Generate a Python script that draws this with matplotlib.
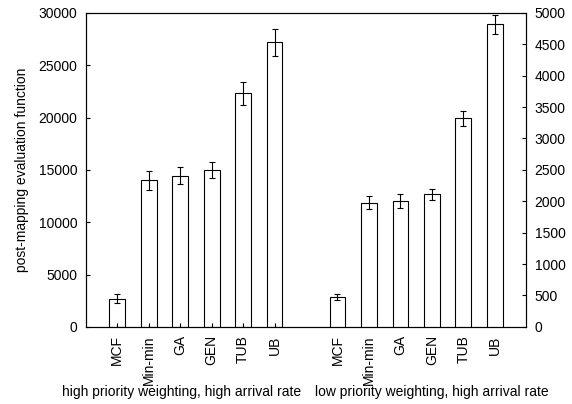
import matplotlib
matplotlib.use("Agg")
import matplotlib.pyplot as plt

plt.rcParams['font.family'] = ['Liberation Sans', 'DejaVu Sans']

methods = ["MCF", "Min-min", "GA", "GEN", "TUB", "UB"]
high_vals = [2700, 14000, 14450, 15000, 22300, 27200]
high_err = [400, 900, 800, 800, 1100, 1300]
low_vals = [480, 1980, 2010, 2110, 3320, 4820]
low_err = [50, 110, 110, 90, 120, 150]
group_labels = ["high priority weighting, high arrival rate",
                "low priority weighting, high arrival rate"]
left_ticks = [0, 5000, 10000, 15000, 20000, 25000, 30000]
right_ticks = [0, 500, 1000, 1500, 2000, 2500, 3000, 3500, 4000, 4500, 5000]

FS = 10
fig = plt.figure(figsize=(5.72, 4.04), dpi=100)
ax = fig.add_axes([0.150, 0.191, 0.770, 0.777])
ax2 = ax.twinx()

x_high = list(range(1, 7))
x_low = list(range(8, 14))

ax.bar(x_high, high_vals, width=0.5, color='white', edgecolor='black', linewidth=0.8,
       yerr=high_err, error_kw=dict(ecolor='black', elinewidth=0.8, capsize=2, capthick=0.8))
ax2.bar(x_low, low_vals, width=0.5, color='white', edgecolor='black', linewidth=0.8,
        yerr=low_err, error_kw=dict(ecolor='black', elinewidth=0.8, capsize=2, capthick=0.8))

ax.set_xlim(0, 14)
ax.set_ylim(0, 30000)
ax2.set_ylim(0, 5000)
ax.set_yticks(left_ticks)
ax2.set_yticks(right_ticks)
ax.set_xticks(x_high + x_low)
ax.set_xticklabels(methods + methods, rotation=90, fontsize=FS)
ax.tick_params(axis='both', direction='in', length=3, width=0.8, labelsize=FS, pad=6)
ax.tick_params(axis='y', right=False)
ax2.tick_params(axis='y', direction='in', length=3, width=0.8, labelsize=FS, pad=6)
ax.set_ylabel("post-mapping evaluation function", fontsize=FS, labelpad=7)
for a in (ax, ax2):
    for s in a.spines.values():
        s.set_linewidth(0.8)

fig.text(182 / 572, 1 - 392 / 404, group_labels[0], ha='center', va='center', fontsize=FS)
fig.text(432 / 572, 1 - 392 / 404, group_labels[1], ha='center', va='center', fontsize=FS)

fig.savefig("out.png", dpi=100)
